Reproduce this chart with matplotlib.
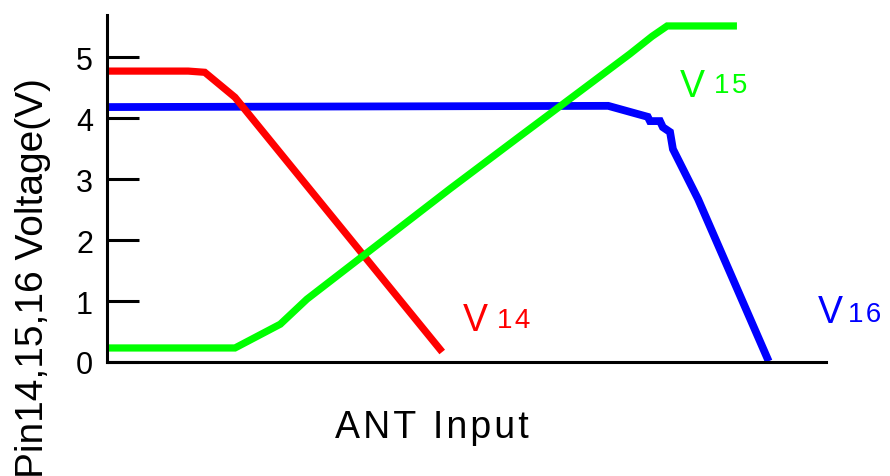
import matplotlib
matplotlib.use("Agg")
import matplotlib.pyplot as plt

plt.rcParams['font.family'] = ['Liberation Sans', 'DejaVu Sans']

# ANT input (arbitrary units, 0-100) vs pin voltages
v14_x = [0, 11.3, 13.6, 17.8, 46.3]
v14_y = [4.77, 4.77, 4.75, 4.34, 0.21]

v15_x = [0, 17.8, 24.1, 27.8, 47.7, 57.4, 65.8, 72.7, 75.8, 77.9, 87.1]
v15_y = [0.23, 0.23, 0.62, 1.03, 2.84, 3.70, 4.44, 5.05, 5.34, 5.51, 5.51]

v16_x = [0, 69.7, 75.2, 75.5, 76.9, 77.3, 78.3, 78.7, 82.2, 91.8]
v16_y = [4.18, 4.20, 4.02, 3.95, 3.95, 3.85, 3.77, 3.49, 2.67, 0.07]

yticks = [0, 1, 2, 3, 4, 5]

fig = plt.figure(figsize=(8.9, 4.77), dpi=100)
ax = fig.add_axes([0.1202, 0.239, 0.808, 0.7275])

ax.plot(v16_x, v16_y, color='#0000ff', lw=5.6, solid_joinstyle='miter')
ax.plot(v14_x, v14_y, color='#ff0000', lw=5.2, solid_joinstyle='miter')
ax.plot(v15_x, v15_y, color='#00ff00', lw=5.2, solid_joinstyle='miter')

ax.set_xlim(0, 100)
ax.set_ylim(0, 5.69)
ax.set_xticks([])
ax.set_yticks(yticks)
ax.tick_params(axis='y', direction='in', length=23, width=2.2, pad=10, labelsize=22)
for s in ['top', 'right']:
    ax.spines[s].set_visible(False)
for s in ['left', 'bottom']:
    ax.spines[s].set_linewidth(2.2)

# series labels
ax.text(49.5, 0.52, 'V', color='#ff0000', fontsize=27, ha='left', va='baseline')
ax.text(54.3, 0.58, '1\u200a4', color='#ff0000', fontsize=20, ha='left', va='baseline')
ax.text(79.7, 4.36, 'V', color='#00ff00', fontsize=27, ha='left', va='baseline')
ax.text(84.4, 4.42, '1\u200a5', color='#00ff00', fontsize=20, ha='left', va='baseline')
ax.text(98.9, 0.65, 'V', color='#0000ff', fontsize=27, ha='left', va='baseline')
ax.text(103.0, 0.67, '1\u200a6', color='#0000ff', fontsize=20, ha='left', va='baseline', clip_on=False)

fig.text(432 / 890, 1 - 428 / 477, 'A\u200aN\u200aT\u200a \u200aI\u200an\u200ap\u200au\u200at',
         fontsize=27, ha='center', va='center')
fig.text(33 / 890, 1 - 278 / 477, 'Pin14,15,16 Voltage(V)',
         fontsize=28, rotation=90, ha='center', va='center')

fig.savefig('out.png', dpi=100)
